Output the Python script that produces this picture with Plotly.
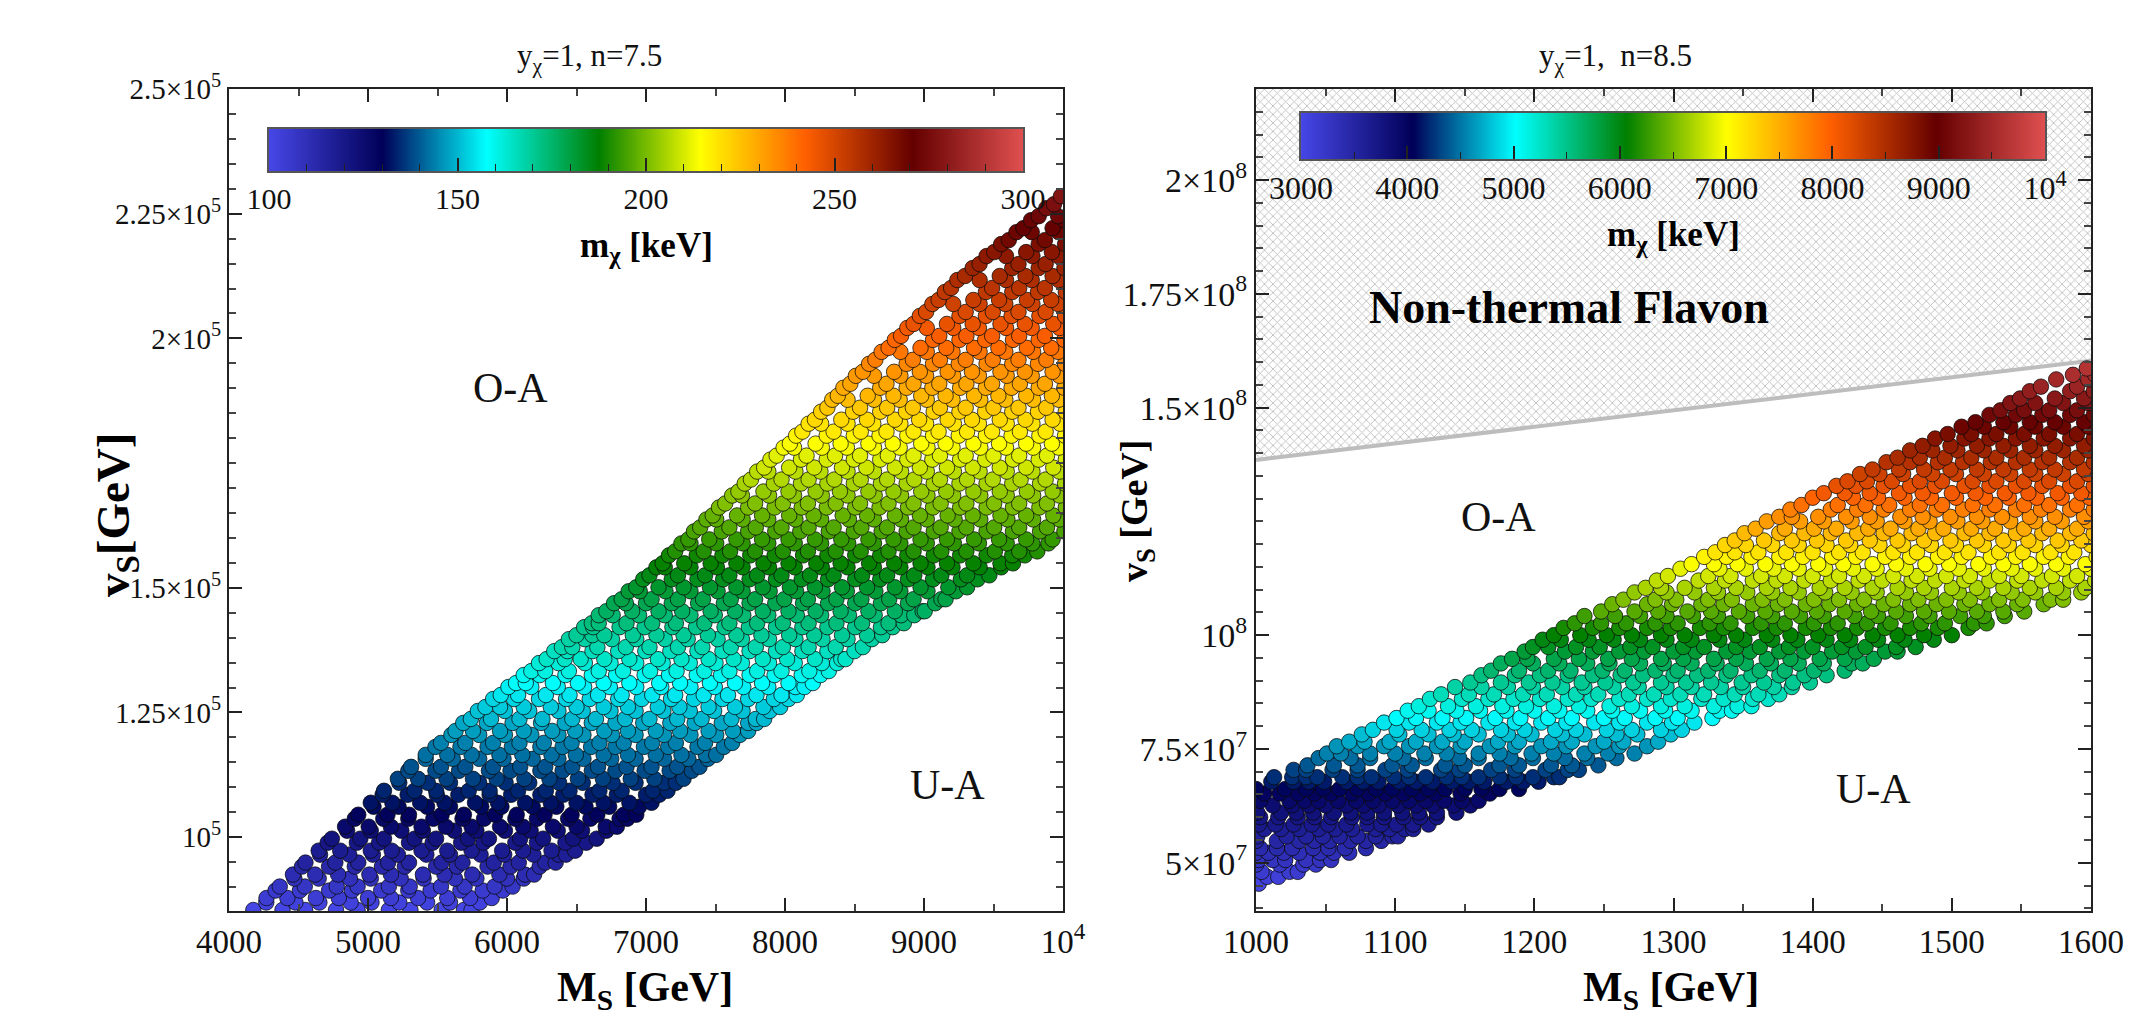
import plotly.graph_objects as go

W, H = 2154, 1019
OFF = 8  # the page body offsets the figure by this many pixels
SERIF = "Liberation Serif"

# ---------- left panel data: rows of points (n = 7.5) ----------
left_vs = [85400,86900,87800,89300,90100,91700,92500,94100,94900,96500,97300,98900,99700,101300,102100,103700,104500,106100,106900,108500,
109300,110900,111700,113300,114100,115700,116500,118100,118900,120500,121300,122900,123700,125300,126100,127700,128500,130100,130900,132500,
133300,134900,135700,137300,138100,139700,140500,142100,142900,144500,145300,146900,147700,149300,150100,151700,152500,154100,154900,156500,
157300,158900,159700,161300,162100,163700,164500,166100,166900,168500,169300,170900,171700,173300,174100,175700,176500,178100,178900,180500,
181300,182900,183700,185300,186100,187700,188500,190100,190900,192500,193300,194900,195700,197300,198100,199700,200500,202100,202900,204500,
205300,206900,207700,209300,210100,211700,212500,214100,214900,216500,217300,218900,219700,221300,222100,223700,224500,226100,226900,228500]
left_m = [100,102,104,105,107,109,111,113,115,117,118,120,122,124,126,127,129,131,132,133,
134,135,137,138,139,141,142,143,144,146,147,148,150,151,152,153,155,156,158,159,
161,162,164,165,167,168,170,171,173,174,176,178,179,181,182,184,185,187,188,189,
191,192,193,195,196,197,198,200,201,202,203,205,206,207,209,210,211,213,214,216,
218,219,221,222,224,226,227,229,230,232,233,235,237,238,240,241,243,244,246,247,
249,251,252,254,255,257,258,260,261,263,264,266,268,269,271,272,273,275,276,278]
left_ms = [
[4175,4385,4548,4770,4925,5150,5305,5530,5690,5745],
[4268,4478,4650,4875,5025,5225,5425,5590,5805],
[4270,4420,4625,4790,5000,5165,5360,5570,5735,5890],
[4335,4510,4720,4885,5095,5290,5450,5665,5825,5970],
[4365,4545,4775,4925,5150,5300,5525,5695,5910,6040],
[4470,4645,4870,5020,5235,5400,5625,5780,6000,6120],
[4460,4620,4785,5010,5165,5395,5550,5750,5945,6130,6195],
[4525,4720,4905,5100,5265,5490,5640,5860,6025,6235],
[4550,4765,4930,5145,5295,5530,5680,5905,6085,6275,6350],
[4655,4865,5035,5215,5420,5590,5810,5980,6190,6370,6425],
[4645,4800,5020,5170,5385,5570,5745,5965,6115,6320,6490],
[4710,4920,5080,5295,5465,5670,5830,6060,6215,6420,6570],
[4740,4945,5115,5335,5490,5720,5870,6095,6260,6475,6645],
[4850,5020,5240,5395,5620,5780,5985,6170,6365,6540,6715],
[4835,5005,5165,5385,5560,5745,5950,6115,6330,6500,6710,6790],
[4905,5110,5290,5470,5680,5835,6060,6215,6440,6600,6810,6865],
[4930,5140,5295,5530,5690,5915,6070,6270,6465,6650,6840,6930],
[5040,5220,5425,5590,5815,5960,6185,6355,6565,6735,6950],
[5020,5175,5375,5550,5770,5935,6130,6315,6500,6695,6880,7040],
[5105,5285,5495,5650,5875,6030,6240,6405,6615,6790,7000,7095],
[5115,5335,5490,5725,5875,6080,6280,6450,6665,6825,7050,7155],
[5225,5430,5590,5800,5990,6160,6375,6545,6760,6925,7130,7215],
[5215,5360,5565,5755,5925,6125,6305,6510,6690,6890,7060,7270],
[5290,5485,5655,5870,6025,6240,6400,6610,6780,6990,7170,7330],
[5310,5525,5700,5900,6095,6275,6470,6655,6860,7040,7225,7385],
[5415,5610,5800,5975,6185,6370,6550,6750,6925,7130,7305,7445],
[5415,5570,5745,5945,6110,6320,6495,6695,6870,7070,7255,7430,7505],
[5485,5665,5860,6035,6240,6400,6605,6780,6985,7160,7370,7560],
[5525,5700,5900,6090,6265,6465,6665,6840,7045,7215,7425,7620],
[5600,5800,5985,6175,6370,6550,6755,6925,7130,7320,7505,7675],
[5630,5755,5950,6120,6325,6490,6700,6870,7070,7245,7450,7625,7735],
[5685,5855,6040,6245,6415,6610,6780,6980,7175,7350,7545,7735,7795],
[5740,5885,6090,6255,6470,6640,6850,7025,7225,7400,7615,7790,7850],
[5790,5985,6160,6370,6545,6745,6925,7125,7315,7490,7695,7890],
[5845,5950,6120,6315,6500,6695,6870,7085,7240,7450,7640,7845,7965],
[5900,6050,6230,6425,6595,6800,6970,7180,7345,7550,7735,7920,8025],
[5955,6080,6280,6450,6655,6825,7045,7210,7415,7590,7795,7975,8085],
[6010,6175,6365,6555,6740,6930,7110,7320,7495,7700,7880,8075,8140],
[6065,6135,6330,6510,6695,6880,7095,7245,7460,7640,7835,8025,8200],
[6120,6235,6420,6610,6785,6990,7165,7365,7540,7745,7925,8120,8255],
[6175,6275,6445,6660,6835,7030,7220,7420,7600,7800,7975,8175,8315],
[6230,6370,6560,6745,6930,7120,7315,7500,7690,7885,8070,8265,8375],
[6285,6415,6530,6700,6880,7085,7255,7450,7630,7840,8015,8215,8405,8435],
[6340,6435,6615,6800,6995,7175,7370,7550,7745,7935,8125,8305,8500],
[6395,6470,6650,6855,7025,7230,7405,7610,7790,7985,8170,8365,8560],
[6445,6560,6755,6930,7135,7300,7515,7690,7885,8075,8270,8450,8625],
[6500,6615,6700,6905,7075,7270,7445,7650,7830,8030,8210,8410,8590,8700],
[6555,6620,6810,6990,7190,7360,7565,7740,7935,8125,8305,8505,8690,8775],
[6610,6660,6860,7045,7215,7420,7600,7800,7985,8170,8370,8555,8745,8855],
[6660,6760,6950,7135,7320,7495,7700,7880,8085,8260,8460,8645,8835,8930],
[6715,6900,7090,7260,7465,7640,7840,8025,8220,8400,8600,8790,8990,9005],
[6770,6855,7000,7185,7375,7560,7745,7930,8130,8310,8505,8690,8885,9080],
[6825,7040,7230,7410,7610,7785,7995,8165,8370,8550,8750,8925,9125,9155],
[6875,6955,7140,7320,7515,7695,7890,8080,8270,8445,8650,8830,9025,9230],
[6930,7090,7270,7460,7650,7840,8035,8215,8410,8590,8790,8975,9175,9310],
[6980,7185,7370,7555,7745,7935,8120,8310,8505,8685,8885,9065,9265,9385],
[7025,7230,7425,7600,7800,7975,8180,8350,8555,8735,8930,9125,9310,9470],
[7075,7135,7320,7510,7695,7885,8070,8265,8450,8640,8830,9025,9205,9400,9555],
[7120,7275,7465,7650,7845,8025,8225,8400,8605,8785,8975,9165,9355,9550,9640],
[7165,7365,7550,7750,7925,8130,8305,8505,8685,8880,9070,9260,9450,9635,9725],
[7210,7415,7605,7785,7985,8165,8365,8545,8745,8925,9125,9305,9510,9685,9815],
[7255,7320,7505,7695,7880,8070,8260,8455,8640,8830,9020,9215,9395,9595,9780,9895],
[7305,7455,7650,7835,8025,8215,8405,8600,8780,8975,9165,9360,9540,9735,9925],
[7345,7545,7735,7930,8110,8315,8495,8695,8875,9070,9255,9450,9640,9835,10010],
[7390,7600,7790,7975,8170,8350,8550,8735,8925,9120,9305,9505,9685,9885],
[7435,7505,7695,7880,8075,8260,8460,8640,8835,9020,9220,9405,9600,9785,9975],
[7480,7655,7835,8030,8205,8415,8590,8790,8970,9170,9350,9550,9735,9930],
[7525,7735,7925,8120,8300,8505,8680,8885,9065,9260,9450,9640,9830,10020],
[7570,7785,7985,8165,8365,8540,8745,8925,9120,9305,9505,9685,9885],
[7620,7690,7885,8065,8265,8450,8645,8835,9025,9210,9405,9595,9785,9975],
[7665,7845,8025,8220,8395,8600,8780,8980,9160,9355,9545,9740,9925],
[7710,7920,8115,8305,8495,8690,8875,9070,9255,9450,9635,9835,10015],
[7755,7975,8170,8355,8545,8735,8930,9115,9310,9495,9695,9875],
[7800,7880,8075,8255,8450,8640,8835,9020,9215,9400,9595,9780,9975],
[7850,8030,8210,8410,8585,8790,8970,9165,9350,9545,9735,9930],
[7895,8115,8300,8495,8685,8880,9060,9260,9440,9640,9825,10020],
[7940,8155,8360,8540,8740,8925,9115,9300,9500,9685,9885],
[7990,8065,8265,8445,8640,8825,9025,9205,9405,9590,9785,9970],
[8035,8220,8400,8600,8775,8980,9155,9355,9540,9735,9920],
[8080,8300,8495,8680,8880,9065,9250,9445,9630,9830,10015],
[8125,8350,8545,8730,8925,9105,9310,9490,9690,9875],
[8170,8260,8450,8635,8830,9015,9215,9395,9595,9780,9980],
[8215,8405,8590,8790,8965,9170,9345,9545,9730,9925],
[8260,8490,8685,8870,9070,9255,9440,9635,9820,10020],
[8305,8540,8735,8920,9115,9300,9500,9680,9880],
[8340,8450,8640,8825,9020,9205,9405,9585,9785,9970],
[8380,8595,8780,8980,9155,9360,9535,9735,9920],
[8420,8685,8875,9060,9260,9445,9630,9825,10010],
[8470,8730,8925,9110,9305,9490,9690,9870],
[8510,8640,8830,9015,9210,9395,9595,9775,9975],
[8560,8785,8970,9170,9345,9550,9725,9925],
[8605,8875,9065,9250,9450,9635,9820,10015],
[8650,8920,9115,9300,9495,9680,9880],
[8695,8830,9020,9205,9400,9585,9785,9965],
[8745,8975,9160,9360,9535,9740,9915],
[8790,9065,9255,9440,9640,9825,10010],
[8835,9110,9305,9490,9685,9870],
[8880,9020,9210,9395,9590,9775,9975],
[8925,9165,9350,9550,9725,9930],
[8970,9255,9445,9630,9830,10015],
[9015,9300,9495,9680,9875],
[9060,9210,9400,9585,9780,9965],
[9105,9355,9540,9740,9915],
[9150,9445,9635,9820,10020],
[9195,9490,9685,9870],
[9240,9400,9590,9775,9970],
[9295,9545,9730,9925],
[9350,9635,9825,10010],
[9400,9680,9875],
[9450,9590,9780,9965],
[9505,9735,9920],
[9555,9825,10015],
[9610,9870],
[9665,9775,9970],
[9715,9925],
[9770,10010],
[9825,9965],
[9880],
[9935],
[9985],
]

# ---------- right panel data: rows of points (n = 8.5), vs in units of 1e7 ----------
right_vs_e7 = [4.54,4.69,4.80,4.96,5.06,5.22,5.32,5.48,5.58,5.74,5.84,6.00,6.10,6.26,6.36,6.52,6.62,6.78,6.88,7.04,7.14,7.30,7.40,7.56,7.66,7.82,7.92,
8.08,8.18,8.34,8.44,8.60,8.70,8.86,8.96,9.12,9.22,9.38,9.48,9.64,9.74,9.90,10.00,10.16,10.26,10.42,10.52,10.68,10.78,10.94,11.04,11.20,11.30,11.46,11.56,
11.72,11.82,11.98,12.08,12.24,12.34,12.50,12.60,12.76,12.86,13.02,13.12,13.28,13.38,13.54,13.64,13.80,13.90,14.06,14.16,14.32,14.42,14.58,14.68,14.84,14.94,
15.10,15.20,15.36,15.46,15.62,15.72,15.86]
right_m = [3030,3095,3160,3225,3290,3355,3420,3480,3545,3610,3670,3735,3800,3865,3930,3995,4070,4150,4225,4300,4380,4455,4535,4610,4690,4765,4845,
4920,5000,5075,5150,5230,5305,5380,5455,5530,5610,5685,5760,5840,5915,5990,6065,6145,6220,6295,6375,6450,6525,6600,6680,6755,6830,6905,6985,
7070,7160,7250,7335,7425,7515,7605,7690,7780,7870,7960,8045,8125,8205,8285,8365,8445,8525,8600,8680,8760,8840,8920,9000,9070,9140,
9210,9280,9350,9420,9490,9560,9630]
right_ms = [
[1002],
[1008,1016],
[1004,1024,1030],
[1000,1017,1034,1043],
[1002,1012,1021,1036,1046,1054],
[1000,1009,1020,1031,1046,1056,1067],
[1003,1015,1026,1041,1052,1064,1079],
[1000,1015,1031,1042,1053,1068,1079,1090],
[1001,1022,1036,1048,1060,1073,1086,1098,1102],
[1006,1018,1031,1045,1057,1069,1086,1096,1107,1113],
[1002,1014,1027,1040,1052,1065,1080,1090,1101,1113,1124],
[1003,1016,1030,1042,1054,1069,1080,1092,1106,1118,1130],
[1001,1018,1029,1041,1056,1068,1080,1092,1105,1117,1130,1144],
[1012,1026,1038,1050,1065,1077,1088,1102,1115,1127,1142,1154],
[1003,1024,1035,1045,1059,1072,1084,1098,1110,1122,1135,1148,1160],
[1006,1017,1030,1042,1054,1069,1081,1093,1106,1118,1129,1147,1168],
[1000,1021,1036,1048,1060,1073,1086,1098,1112,1124,1136,1150,1162,1175,1189],
[1011,1027,1038,1049,1065,1077,1088,1103,1115,1127,1141,1153,1164,1180,1192,1203],
[1013,1026,1036,1044,1062,1073,1083,1099,1110,1122,1137,1148,1160,1175,1187,1199,1214,1218],
[1027,1036,1055,1073,1093,1109,1133,1146,1169,1186,1208,1224,1232],
[1037,1056,1073,1098,1112,1136,1150,1175,1189,1212,1227,1246],
[1045,1068,1082,1106,1122,1146,1160,1183,1199,1222,1238,1259],
[1051,1061,1082,1100,1121,1137,1160,1175,1198,1214,1236,1253,1272],
[1058,1073,1092,1110,1130,1147,1168,1186,1205,1223,1244,1261,1281],
[1067,1078,1096,1115,1134,1150,1174,1189,1212,1227,1250,1264,1289],
[1076,1103,1124,1142,1160,1181,1198,1220,1236,1259,1274,1298],
[1084,1101,1119,1139,1155,1176,1193,1215,1230,1252,1270,1291,1306],
[1092,1110,1130,1147,1167,1186,1205,1223,1243,1261,1281,1299,1315],
[1101,1115,1134,1151,1172,1190,1210,1227,1250,1265,1287,1303,1328],
[1109,1124,1144,1161,1180,1200,1218,1238,1256,1276,1294,1313,1333,1342],
[1117,1138,1158,1177,1194,1214,1232,1254,1270,1291,1308,1329,1346,1356],
[1125,1148,1167,1185,1204,1224,1241,1261,1281,1298,1320,1336,1357,1368],
[1133,1153,1171,1192,1209,1230,1246,1268,1286,1305,1322,1344,1361,1376],
[1143,1162,1181,1199,1220,1236,1257,1275,1295,1313,1334,1350,1372,1385],
[1154,1176,1196,1213,1234,1251,1271,1291,1309,1327,1349,1365,1386,1398],
[1162,1186,1204,1224,1242,1262,1278,1300,1317,1338,1356,1376,1394,1410],
[1169,1189,1210,1226,1249,1265,1287,1303,1325,1341,1362,1380,1401,1423],
[1176,1199,1218,1238,1254,1276,1293,1313,1331,1352,1370,1390,1408,1428,1436],
[1184,1195,1214,1232,1253,1270,1291,1307,1329,1345,1367,1384,1405,1423,1444],
[1193,1222,1242,1261,1279,1300,1316,1338,1355,1376,1394,1414,1431,1452,1461],
[1199,1210,1230,1247,1269,1285,1307,1322,1345,1362,1383,1400,1421,1438,1460,1474],
[1206,1219,1239,1257,1276,1295,1313,1333,1351,1371,1389,1410,1427,1447,1466,1487],
[1214,1233,1252,1270,1291,1308,1329,1345,1367,1384,1404,1423,1443,1461,1480,1500],
[1221,1242,1261,1281,1298,1319,1336,1357,1374,1395,1413,1432,1452,1470,1490,1512],
[1229,1248,1266,1287,1303,1326,1341,1363,1380,1401,1418,1439,1456,1478,1495,1516,1525],
[1236,1258,1276,1295,1314,1332,1353,1371,1391,1408,1430,1447,1467,1484,1506,1523,1538],
[1248,1272,1289,1310,1327,1347,1366,1385,1403,1423,1442,1460,1480,1498,1518,1537,1552],
[1256,1281,1299,1320,1336,1357,1375,1395,1412,1432,1451,1470,1489,1509,1527,1547,1566],
[1264,1287,1302,1325,1342,1364,1380,1401,1419,1437,1458,1476,1496,1513,1534,1551,1571,1580],
[1272,1295,1315,1332,1353,1371,1390,1409,1428,1446,1467,1485,1505,1522,1543,1560,1580,1593],
[1280,1291,1308,1329,1345,1367,1384,1405,1423,1443,1461,1480,1500,1518,1537,1556,1575,1596],
[1288,1318,1337,1357,1374,1394,1413,1433,1450,1471,1488,1509,1527,1547,1565,1585,1603],
[1296,1325,1341,1363,1380,1400,1419,1437,1458,1475,1496,1513,1534,1550,1572,1590],
[1305,1333,1352,1372,1390,1409,1429,1446,1467,1484,1505,1523,1543,1560,1580,1600],
[1313,1329,1346,1366,1385,1404,1422,1443,1460,1481,1498,1519,1537,1556,1575,1596],
[1322,1338,1356,1376,1393,1414,1431,1452,1470,1490,1507,1528,1546,1566,1584,1604],
[1330,1344,1361,1381,1400,1419,1436,1458,1475,1495,1512,1534,1551,1571,1588],
[1337,1352,1371,1390,1410,1427,1448,1465,1485,1503,1523,1541,1560,1579,1600],
[1344,1365,1385,1403,1424,1441,1461,1480,1499,1518,1537,1555,1576,1593],
[1351,1376,1394,1413,1432,1451,1471,1488,1509,1527,1546,1565,1585,1602],
[1359,1380,1401,1417,1440,1456,1476,1494,1514,1531,1552,1570,1590],
[1367,1391,1408,1428,1446,1466,1484,1504,1522,1542,1560,1579,1598],
[1376,1385,1404,1424,1441,1463,1479,1499,1518,1536,1556,1574,1595],
[1384,1413,1432,1451,1470,1489,1508,1527,1546,1564,1585,1602],
[1392,1418,1438,1455,1477,1493,1515,1531,1552,1570,1590],
[1400,1429,1447,1466,1485,1503,1524,1541,1561,1579,1599],
[1408,1423,1441,1462,1479,1500,1517,1538,1555,1576,1593],
[1417,1431,1451,1470,1488,1509,1527,1546,1565,1585,1602],
[1425,1439,1457,1477,1493,1515,1532,1552,1570,1590],
[1434,1448,1465,1486,1503,1523,1542,1560,1580,1598],
[1443,1462,1480,1499,1518,1537,1556,1574,1595],
[1453,1470,1490,1508,1528,1546,1565,1585,1602],
[1461,1477,1495,1514,1532,1552,1570,1590],
[1470,1486,1504,1523,1542,1560,1580,1598],
[1479,1499,1518,1537,1556,1574,1595],
[1488,1509,1527,1546,1566,1585,1602],
[1497,1514,1532,1552,1570,1590],
[1507,1523,1542,1560,1580,1598],
[1517,1537,1556,1574,1595],
[1527,1546,1565,1585,1602],
[1535,1552,1570,1590],
[1542,1560,1580,1598],
[1549,1574,1595],
[1556,1585,1602],
[1564,1590],
[1575,1598],
[1587,1603],
[1597],
]

# ---------- non-thermal boundary ----------
bound_ms = [1000, 1600]
bound_vs = [1.385e8, 1.603e8]

# ---------- axis ticks ----------
left_xticks = [4000, 5000, 6000, 7000, 8000, 9000, 10000]
left_xlabels = ["4000", "5000", "6000", "7000", "8000", "9000", "10<sup>4</sup>"]
left_yticks = [1e5, 1.25e5, 1.5e5, 2e5, 2.25e5, 2.5e5]
left_ylabels = ["10<sup>5</sup>", "1.25×10<sup>5</sup>", "1.5×10<sup>5</sup>", "2×10<sup>5</sup>", "2.25×10<sup>5</sup>", "2.5×10<sup>5</sup>"]
right_xticks = [1000, 1100, 1200, 1300, 1400, 1500, 1600]
right_xlabels = ["1000", "1100", "1200", "1300", "1400", "1500", "1600"]
right_yticks = [5e7, 7.5e7, 1e8, 1.5e8, 1.75e8, 2e8]
right_ylabels = ["5×10<sup>7</sup>", "7.5×10<sup>7</sup>", "10<sup>8</sup>", "1.5×10<sup>8</sup>", "1.75×10<sup>8</sup>", "2×10<sup>8</sup>"]
left_bar_ticks = [100, 150, 200, 250, 300]
left_bar_labels = ["100", "150", "200", "250", "300"]
right_bar_ticks = [3000, 4000, 5000, 6000, 7000, 8000, 9000, 10000]
right_bar_labels = ["3000", "4000", "5000", "6000", "7000", "8000", "9000", "10<sup>4</sup>"]

cscale = [[0.0, "#4646e6"], [0.15, "#000058"], [0.288, "#00ffff"], [0.437, "#007f00"],
          [0.571, "#ffff00"], [0.71, "#ff6000"], [0.853, "#640000"], [1.0, "#e05050"]]

def flat(vs, ms, m, scale=1.0):
    xs, ys, cs = [], [], []
    for v, row, c in zip(vs, ms, m):
        for x in row:
            xs.append(x); ys.append(v * scale); cs.append(c)
    return xs, ys, cs

def dom_x(a, b): return [(a - OFF) / W, (b - OFF) / W]
def dom_y(top, bot): return [1 - (bot - OFF) / H, 1 - (top - OFF) / H]
def px(x): return (x - OFF) / W
def py(y): return 1 - (y - OFF) / H

fig = go.Figure()
marker_line = dict(color="rgba(10,10,10,0.75)", width=1)

# hatched region
fig.add_trace(go.Scatter(x=bound_ms + bound_ms[::-1], y=bound_vs + [2.21e8, 2.21e8], xaxis="x2", yaxis="y2",
                         mode="lines", line=dict(width=0), fill="toself", fillcolor="rgba(255,255,255,0)",
                         fillpattern=dict(shape="x", size=6, solidity=0.28, fgcolor="#808080", bgcolor="#ffffff"),
                         hoverinfo="skip", showlegend=False))
fig.add_trace(go.Scatter(x=bound_ms, y=bound_vs, xaxis="x2", yaxis="y2", mode="lines",
                         line=dict(color="#bdbdbd", width=4), showlegend=False))

lx, ly, lc = flat(left_vs, left_ms, left_m)
fig.add_trace(go.Scatter(x=lx, y=ly, mode="markers", xaxis="x", yaxis="y", showlegend=False,
                         marker=dict(size=15.5, color=lc, colorscale=cscale, cmin=100, cmax=300, line=marker_line)))
rx, ry, rc = flat(right_vs_e7, right_ms, right_m, 1e7)
fig.add_trace(go.Scatter(x=rx, y=ry, mode="markers", xaxis="x2", yaxis="y2", showlegend=False,
                         marker=dict(size=15.5, color=rc, colorscale=cscale, cmin=3000, cmax=10000, line=marker_line)))

# colour bars
lb = list(range(100, 301, 2))
rb = list(range(3000, 10001, 70))
fig.add_trace(go.Heatmap(x=lb, y=[0, 1], z=[lb, lb], xaxis="x3", yaxis="y3", colorscale=cscale,
                         zmin=100, zmax=300, showscale=False, hoverinfo="skip", zsmooth="best"))
fig.add_trace(go.Heatmap(x=rb, y=[0, 1], z=[rb, rb], xaxis="x4", yaxis="y4", colorscale=cscale,
                         zmin=3000, zmax=10000, showscale=False, hoverinfo="skip", zsmooth="best"))

def main_x(dom, rng, ticks, labels, minor, anchor):
    return dict(domain=dom, range=rng, tickvals=ticks, ticktext=labels, ticks="inside", ticklen=13, tickwidth=2,
                tickcolor="#222", mirror="allticks", showline=True, linecolor="#222", linewidth=2, showgrid=False,
                zeroline=False, tickfont=dict(family=SERIF, size=33, color="#111"), anchor=anchor, tickangle=0, automargin=False,
                minor=dict(dtick=minor, tick0=rng[0], ticks="inside", ticklen=7, tickwidth=1.5, tickcolor="#444", showgrid=False))

def main_y(dom, rng, ticks, labels, minor, tick0, anchor, fsize):
    return dict(domain=dom, range=rng, tickvals=ticks, ticktext=labels, ticks="inside", ticklen=13, tickwidth=2,
                tickcolor="#222", mirror="allticks", showline=True, linecolor="#222", linewidth=2, showgrid=False,
                zeroline=False, tickfont=dict(family=SERIF, size=fsize, color="#111"), anchor=anchor, automargin=False,
                minor=dict(dtick=minor, tick0=tick0, ticks="inside", ticklen=7, tickwidth=1.5, tickcolor="#444", showgrid=False))

def bar_x(dom, rng, ticks, labels, minor, anchor, fsize):
    return dict(domain=dom, range=rng, tickvals=ticks, ticktext=labels, ticks="inside", ticklen=13, tickwidth=1.5,
                tickcolor="#222", showline=True, linecolor="#555", linewidth=2, mirror=True, showgrid=False, zeroline=False,
                tickfont=dict(family=SERIF, size=fsize, color="#111"), anchor=anchor, tickangle=0, automargin=False,
                minor=dict(dtick=minor, tick0=rng[0], ticks="inside", ticklen=7, tickwidth=1, tickcolor="#222", showgrid=False))

def bar_y(dom, anchor):
    return dict(domain=dom, range=[0, 1], showticklabels=False, ticks="", showgrid=False, zeroline=False, automargin=False,
                showline=True, linecolor="#555", linewidth=2, mirror=True, anchor=anchor)

annots = []
def note(text, x, y, xref, yref, size, bold_=False, color="#111", angle=0):
    annots.append(dict(text=f"<b>{text}</b>" if bold_ else text, x=x, y=y, xref=xref, yref=yref, showarrow=False, textangle=angle,
                       font=dict(family=SERIF, size=size, color=color), xanchor="center", yanchor="middle"))

note("y<sub>χ</sub>=1, n=7.5", px(590), py(58), "paper", "paper", 31)
note("y<sub>χ</sub>=1,  n=8.5", px(1615), py(58), "paper", "paper", 31)
note("O-A", 6026, 190100, "x", "y", 42)
note("U-A", 9168, 110440, "x", "y", 42)
note("O-A", 1174, 1.26e8, "x2", "y2", 42)
note("U-A", 1444, 6.61e7, "x2", "y2", 42)
note("Non-thermal Flavon", 1225, 1.72e8, "x2", "y2", 46, True, "#000")
note("M<sub>S</sub> [GeV]", px(645), py(990), "paper", "paper", 42, True, "#000")
note("M<sub>S</sub> [GeV]", px(1671), py(990), "paper", "paper", 42, True, "#000")
note("v<sub>S</sub>[GeV]", px(117), py(515), "paper", "paper", 47, True, "#000", -90)
note("v<sub>S</sub> [GeV]", px(1137), py(511), "paper", "paper", 38, True, "#000", -90)
note("m<sub>χ</sub> [keV]", px(646), py(247), "paper", "paper", 35, True, "#000")
note("m<sub>χ</sub> [keV]", px(1673), py(236), "paper", "paper", 35, True, "#000")

fig.update_layout(
    width=W, height=H, margin=dict(l=0, r=0, t=0, b=0, autoexpand=False), autosize=False,
    paper_bgcolor="white", plot_bgcolor="white", showlegend=False, annotations=annots,
    xaxis=main_x(dom_x(229, 1063), [4000, 10000], left_xticks, left_xlabels, 500, "y"),
    yaxis=main_y(dom_y(89, 911), [85200, 250000], left_yticks, left_ylabels, 5000, 100000, "x", 29),
    xaxis2=main_x(dom_x(1256, 2091), [1000, 1600], right_xticks, right_xlabels, 50, "y2"),
    yaxis2=main_y(dom_y(89, 911), [3.94e7, 2.2e8], right_yticks, right_ylabels, 5e6, 5e7, "x2", 34),
    xaxis3=bar_x(dom_x(269, 1023), [100, 300], left_bar_ticks, left_bar_labels, 10, "y3", 30),
    yaxis3=bar_y(dom_y(129, 171), "x3"),
    xaxis4=bar_x(dom_x(1301, 2045), [3000, 10000], right_bar_ticks, right_bar_labels, 500, "y4", 32),
    yaxis4=bar_y(dom_y(113, 159), "x4"),
)

fig.write_html("out.html")
